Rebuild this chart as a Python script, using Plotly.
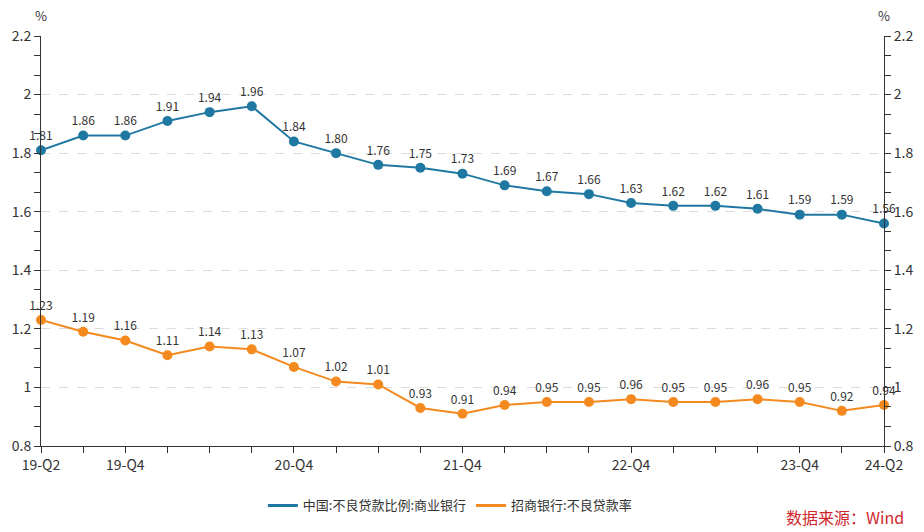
import plotly.graph_objects as go

quarters = ["19-Q2", "19-Q3", "19-Q4", "20-Q1", "20-Q2", "20-Q3", "20-Q4",
            "21-Q1", "21-Q2", "21-Q3", "21-Q4", "22-Q1", "22-Q2", "22-Q3",
            "22-Q4", "23-Q1", "23-Q2", "23-Q3", "23-Q4", "24-Q1", "24-Q2"]
china_npl = [1.81, 1.86, 1.86, 1.91, 1.94, 1.96, 1.84, 1.80, 1.76, 1.75, 1.73,
             1.69, 1.67, 1.66, 1.63, 1.62, 1.62, 1.61, 1.59, 1.59, 1.56]
cmb_npl = [1.23, 1.19, 1.16, 1.11, 1.14, 1.13, 1.07, 1.02, 1.01, 0.93, 0.91,
           0.94, 0.95, 0.95, 0.96, 0.95, 0.95, 0.96, 0.95, 0.92, 0.94]
labeled_ticks = ["19-Q2", "19-Q4", "20-Q4", "21-Q4", "22-Q4", "23-Q4", "24-Q2"]
name_china = "中国:不良贷款比例:商业银行"
name_cmb = "招商银行:不良贷款率"

BLUE = "#1f78a1"
ORANGE = "#f48a1f"
FONT = "Noto Sans CJK SC, Microsoft YaHei, sans-serif"

fig = go.Figure()
for vals, col in [(china_npl, BLUE), (cmb_npl, ORANGE)]:
    fig.add_trace(go.Scatter(
        x=quarters, y=vals, mode="lines+markers+text",
        line=dict(color=col, width=2), marker=dict(color=col, size=10),
        text=[f"{v:.2f}" for v in vals], textposition="top center",
        textfont=dict(size=12, color="#333333", family=FONT),
        showlegend=False, cliponaxis=False, hoverinfo="x+y"))
for nm, col in [(name_china, BLUE), (name_cmb, ORANGE)]:
    fig.add_trace(go.Scatter(x=[None], y=[None], mode="lines", name=nm,
                             line=dict(color=col, width=3)))
# invisible trace to show the right axis
fig.add_trace(go.Scatter(x=quarters, y=china_npl, yaxis="y2", mode="lines",
                         line=dict(width=0), opacity=0, showlegend=False,
                         hoverinfo="skip"))

tick_text = [q if q in labeled_ticks else "" for q in quarters]
yaxis_common = dict(range=[0.8, 2.2], dtick=0.2, tick0=0.8,
                    ticks="outside", ticklen=6, tickcolor="#333333",
                    showline=True, linecolor="#333333", linewidth=1,
                    tickfont=dict(size=14, color="#333333", family=FONT),
                    zeroline=False, automargin=False,
                    minor=dict(dtick=0.2 / 3, tick0=0.8, ticks="outside",
                               ticklen=6, tickcolor="#333333", showgrid=False))

fig.update_layout(
    width=924, height=532,
    margin=dict(l=41, r=40, t=36, b=86),
    paper_bgcolor="white", plot_bgcolor="white",
    font=dict(family=FONT, color="#333333"),
    xaxis=dict(type="category", range=[0, 20], tickmode="array",
               tickvals=quarters, ticktext=tick_text, automargin=False,
               ticks="outside", ticklen=6, tickcolor="#333333",
               showline=True, linecolor="#333333", linewidth=1,
               showgrid=False, tickangle=0,
               tickfont=dict(size=14, color="#333333", family=FONT)),
    yaxis=dict(**yaxis_common, showgrid=True, gridcolor="#dddddd",
               griddash="dash", gridwidth=1, side="left",
               tickformat="~g"),
    yaxis2=dict(**yaxis_common, overlaying="y", side="right",
                showgrid=False, tickformat="~g"),
    legend=dict(orientation="h", x=0.485, xanchor="center", y=-0.145,
                yanchor="middle", font=dict(size=13, color="#333333",
                                            family=FONT),
                itemwidth=30),
    annotations=[
        dict(text="%", xref="paper", yref="paper", x=0, y=1, xshift=0,
             yshift=21, showarrow=False, font=dict(size=13, color="#333333"),
             xanchor="center", yanchor="middle"),
        dict(text="%", xref="paper", yref="paper", x=1, y=1, yshift=21,
             showarrow=False, font=dict(size=13, color="#333333"),
             xanchor="center", yanchor="middle"),
        dict(text="数据来源：Wind", xref="paper", yref="paper", x=1, xshift=22,
             y=0, yshift=-71, showarrow=False, xanchor="right",
             yanchor="middle", font=dict(size=16, color="#d0262d")),
    ],
)

fig.write_html("out.html", config={"displayModeBar": False},
               post_script="document.body.style.margin='0';"
                           "document.body.style.padding='0';")
